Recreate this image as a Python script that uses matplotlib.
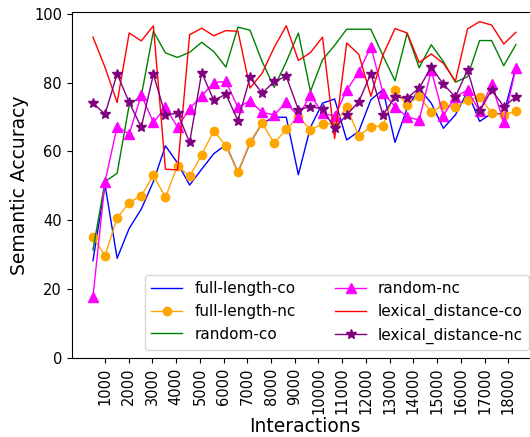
#!/usr/bin/env python
# -*- encoding: utf-8 -*-
'''
plot semantic accuracy vs interactions for the six sampling settings
'''

import matplotlib
matplotlib.use('Agg')
import matplotlib.pyplot as plt

# x positions of the evaluations (number of interactions)
interactions = [494, 1003, 1513, 2022, 2531, 3041, 3550, 4059, 4569, 5078,
                5587, 6097, 6606, 7115, 7625, 8134, 8643, 9153, 9662, 10171,
                10681, 11190, 11699, 12209, 12718, 13227, 13737, 14246, 14755, 15265,
                15774, 16283, 16793, 17302, 17811, 18321]

tick_pos = [1000, 2000, 3000, 4000, 5000, 6000, 7000, 8000, 9000,
            10000, 11000, 12000, 13000, 14000, 15000, 16000, 17000, 18000]
tick_labels = ['1000', '2000', '3000', '4000', '5000', '6000', '7000', '8000', '9000',
               '10000', '11000', '12000', '13000', '14000', '15000', '16000', '17000', '18000']

full_length_co = [28.2, 50.2, 28.9, 37.6, 43.2, 51.2, 61.6, 56.6, 50.2, 54.8,
                  59.3, 61.9, 53.9, 62.4, 68.2, 69.9, 69.9, 53.2, 67.0, 74.0,
                  75.2, 63.3, 65.8, 75.0, 77.9, 62.6, 72.5, 78.3, 74.0, 66.7,
                  70.6, 77.3, 68.7, 71.0, 70.9, 84.4]

full_length_nc = [35.0, 29.7, 40.6, 45.1, 47.1, 53.0, 46.6, 55.8, 52.7, 59.0,
                  66.0, 61.6, 53.9, 62.6, 68.2, 62.4, 66.4, 70.1, 66.2, 68.0,
                  68.0, 72.8, 64.5, 67.1, 67.4, 77.7, 73.5, 76.1, 71.3, 73.5,
                  72.8, 74.8, 75.9, 71.1, 70.6, 71.6]

random_co = [31.3, 51.2, 53.6, 73.5, 76.1, 94.9, 88.6, 87.3, 88.8, 91.7,
             89.0, 84.5, 96.1, 95.2, 86.1, 78.6, 86.0, 94.4, 77.4, 86.6,
             90.8, 95.5, 95.5, 95.5, 87.8, 80.5, 94.3, 84.3, 91.0, 86.1,
             80.1, 81.7, 92.2, 92.2, 84.9, 91.0]

random_nc = [17.6, 51.2, 67.2, 65.0, 76.4, 68.4, 72.8, 67.0, 72.4, 76.1,
             80.0, 80.3, 72.8, 74.7, 71.3, 70.6, 74.2, 70.1, 76.4, 71.1,
             70.2, 77.8, 83.0, 90.4, 77.1, 73.0, 70.0, 69.1, 83.5, 70.4,
             75.9, 77.8, 71.6, 79.5, 68.5, 84.2]

lexical_distance_co = [93.2, 84.4, 74.2, 94.4, 92.1, 96.5, 54.8, 54.6, 93.9, 95.8,
                       93.6, 95.1, 94.9, 78.4, 82.7, 90.2, 96.5, 86.4, 88.7, 93.2,
                       63.7, 91.5, 88.2, 76.0, 88.0, 95.7, 94.4, 85.8, 88.3, 85.6,
                       80.4, 95.6, 97.7, 96.7, 91.2, 94.6]

lexical_distance_nc = [74.0, 70.8, 82.5, 74.2, 67.0, 82.4, 70.5, 71.1, 62.6, 82.9,
                       74.8, 76.6, 68.9, 81.5, 76.9, 80.3, 81.8, 72.1, 73.0, 72.3,
                       66.7, 70.6, 74.4, 82.6, 70.6, 75.8, 75.5, 78.4, 84.5, 79.5,
                       75.8, 83.7, 71.6, 77.9, 73.0, 75.8]


def main():
    fig = plt.figure(figsize=(5.3, 4.37), dpi=100)
    # right edge of the axes runs past the figure, like the original crop
    ax = fig.add_axes([0.1355, 0.1815, 0.8777, 0.791])

    lw = 1.0
    ax.plot(interactions, full_length_co, c='blue', lw=lw, label='full-length-co')
    ax.plot(interactions, full_length_nc, c='orange', lw=lw, marker='o', ms=6,
            label='full-length-nc')
    ax.plot(interactions, random_co, c='green', lw=lw, label='random-co')
    ax.plot(interactions, random_nc, c='magenta', lw=lw, marker='^', ms=7,
            label='random-nc')
    ax.plot(interactions, lexical_distance_co, c='red', lw=lw,
            label='lexical_distance-co')
    ax.plot(interactions, lexical_distance_nc, c='purple', lw=lw, marker='*', ms=7,
            label='lexical_distance-nc')

    ax.set_ylim(0, 100.5)
    ax.set_yticks([0, 20, 40, 60, 80, 100])
    ax.set_xticks(tick_pos)
    ax.set_xticklabels(tick_labels, rotation=90)
    ax.tick_params(labelsize=10.5)

    ax.set_xlabel('Interactions', fontsize=13.5, labelpad=2)
    ax.set_ylabel('Semantic Accuracy', fontsize=13.5)
    ax.legend(loc='lower right', ncol=2, fontsize=11, columnspacing=2.6)

    fig.savefig('out.png', dpi=100)


if __name__ == '__main__':
    main()
